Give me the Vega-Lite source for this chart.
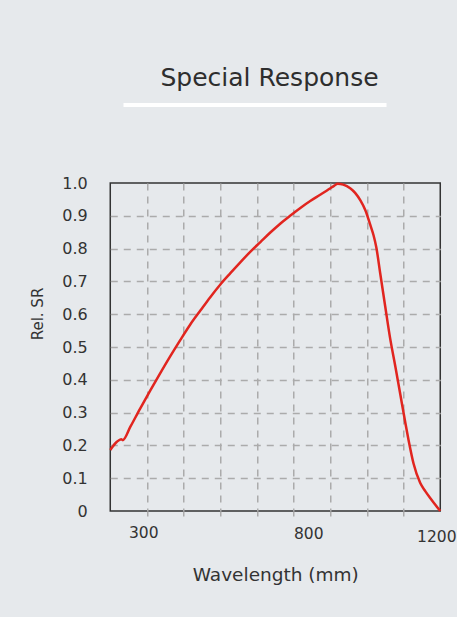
{
  "$schema": "https://vega.github.io/schema/vega-lite/v6.json",
  "background": "#e6e9ec",
  "padding": {"left": 30, "top": 66, "right": 0, "bottom": 32},
  "config": {
    "font": "DejaVu Sans",
    "view": {"stroke": null},
    "axis": {"labelColor": "#333333", "titleColor": "#333333", "labelFont": "DejaVu Sans", "titleFont": "DejaVu Sans", "titleFontWeight": "normal"}
  },
  "spacing": 67,
  "center": true,
  "vconcat": [
    {
      "title": {"text": "Special Response", "fontSize": 25, "font": "DejaVu Sans", "fontWeight": "normal", "color": "#2e2e2e", "anchor": "middle", "dx": 14.5, "offset": 12},
      "width": 263,
      "height": 4,
      "data": {"values": [{"part": "underline"}]},
      "mark": {"type": "rect", "color": "white"},
      "encoding": {
        "y": {"field": "part", "type": "nominal", "axis": {"orient": "right", "labels": false, "ticks": false, "domain": false, "grid": false, "title": null, "minExtent": 57, "maxExtent": 57}}
      }
    },
    {
      "width": 330,
      "height": 328,
      "view": {"stroke": "#333333", "strokeWidth": 1.5},
      "data": {"values": [
        {"wavelength": 200, "sr": 0.186},
        {"wavelength": 220, "sr": 0.211},
        {"wavelength": 233, "sr": 0.219},
        {"wavelength": 238, "sr": 0.216},
        {"wavelength": 261, "sr": 0.257},
        {"wavelength": 291, "sr": 0.313},
        {"wavelength": 321, "sr": 0.367},
        {"wavelength": 352, "sr": 0.421},
        {"wavelength": 382, "sr": 0.472},
        {"wavelength": 412, "sr": 0.521},
        {"wavelength": 442, "sr": 0.568},
        {"wavelength": 473, "sr": 0.611},
        {"wavelength": 503, "sr": 0.652},
        {"wavelength": 533, "sr": 0.690},
        {"wavelength": 564, "sr": 0.725},
        {"wavelength": 594, "sr": 0.758},
        {"wavelength": 624, "sr": 0.790},
        {"wavelength": 655, "sr": 0.820},
        {"wavelength": 685, "sr": 0.849},
        {"wavelength": 715, "sr": 0.876},
        {"wavelength": 746, "sr": 0.901},
        {"wavelength": 776, "sr": 0.924},
        {"wavelength": 806, "sr": 0.945},
        {"wavelength": 836, "sr": 0.964},
        {"wavelength": 867, "sr": 0.984},
        {"wavelength": 879, "sr": 0.992},
        {"wavelength": 889, "sr": 0.998},
        {"wavelength": 906, "sr": 0.995},
        {"wavelength": 927, "sr": 0.984},
        {"wavelength": 942, "sr": 0.970},
        {"wavelength": 958, "sr": 0.947},
        {"wavelength": 973, "sr": 0.917},
        {"wavelength": 988, "sr": 0.872},
        {"wavelength": 998, "sr": 0.840},
        {"wavelength": 1006, "sr": 0.805},
        {"wavelength": 1018, "sr": 0.725},
        {"wavelength": 1033, "sr": 0.625},
        {"wavelength": 1048, "sr": 0.527},
        {"wavelength": 1064, "sr": 0.440},
        {"wavelength": 1079, "sr": 0.355},
        {"wavelength": 1094, "sr": 0.270},
        {"wavelength": 1104, "sr": 0.216},
        {"wavelength": 1119, "sr": 0.145},
        {"wavelength": 1139, "sr": 0.086},
        {"wavelength": 1155, "sr": 0.060},
        {"wavelength": 1170, "sr": 0.039},
        {"wavelength": 1185, "sr": 0.019},
        {"wavelength": 1200, "sr": 0.0}
      ]},
      "mark": {"type": "line", "color": "#e1251f", "strokeWidth": 2.5, "interpolate": "monotone"},
      "encoding": {
        "x": {
          "field": "wavelength",
          "type": "quantitative",
          "scale": {"domain": [200, 1200], "nice": false, "zero": false},
          "axis": {
            "values": [300, 311.11, 422.22, 533.33, 644.44, 755.56, 800, 866.67, 977.78, 1088.89, 1200],
            "labelExpr": "datum.value == 300 || datum.value == 800 || datum.value == 1200 ? '' + datum.value : ''",
            "labelOverlap": false,
            "labelFlush": false,
            "labelFontSize": 15.5,
            "labelPadding": {"condition": [{"test": "datum.value == 800", "value": 10.5}, {"test": "datum.value == 1200", "value": 13}], "value": 9},
            "labelOffset": {"condition": {"test": "datum.value == 1200", "value": -4}, "value": 0},
            "domain": false,
            "grid": true,
            "gridColor": "#ababab",
            "gridDash": [7, 6],
            "gridWidth": 1.5,
            "gridOpacity": {"condition": {"test": "datum.value == 300 || datum.value == 800 || datum.value == 1200", "value": 0}, "value": 1},
            "ticks": true,
            "tickSize": 5,
            "tickColor": "#ababab",
            "tickWidth": 1.5,
            "tickOpacity": {"condition": {"test": "datum.value == 300 || datum.value == 800 || datum.value == 1200", "value": 0}, "value": 1},
            "title": "Wavelength (mm)",
            "titleFontSize": 18.5,
            "titlePadding": 21
          }
        },
        "y": {
          "field": "sr",
          "type": "quantitative",
          "scale": {"domain": [0, 1], "nice": false},
          "axis": {
            "values": [0, 0.1, 0.2, 0.3, 0.4, 0.5, 0.6, 0.7, 0.8, 0.9, 1],
            "labelExpr": "datum.value == 0 ? '0' : format(datum.value, '.1f')",
            "labelFontSize": 16,
            "labelPadding": 23,
            "ticks": false,
            "tickSize": 0,
            "domain": false,
            "grid": true,
            "gridColor": "#ababab",
            "gridDash": [7, 6],
            "gridWidth": 1.5,
            "gridOpacity": {"condition": {"test": "datum.value == 0 || datum.value == 1", "value": 0}, "value": 1},
            "title": "Rel. SR",
            "titleFontSize": 15,
            "titlePadding": 16,
            "titleY": 130.5
          }
        }
      }
    }
  ]
}
